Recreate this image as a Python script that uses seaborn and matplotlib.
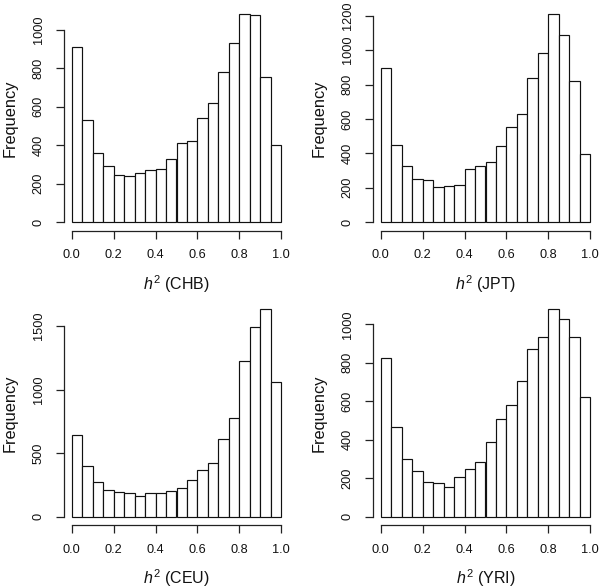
import numpy as np
import pandas as pd
import matplotlib
matplotlib.use("Agg")
import matplotlib.pyplot as plt
import seaborn as sns

sns.set_style("white")
plt.rcParams['font.family'] = ['Liberation Sans', 'DejaVu Sans']
plt.rcParams['mathtext.fontset'] = 'custom'
plt.rcParams['mathtext.it'] = 'Liberation Sans:italic'
plt.rcParams['mathtext.rm'] = 'Liberation Sans'

bin_edges = np.linspace(0, 1, 21)
x_ticks = [0.0, 0.2, 0.4, 0.6, 0.8, 1.0]
x_ticklabels = ["0.0", "0.2", "0.4", "0.6", "0.8", "1.0"]

pops = ["CHB", "JPT", "CEU", "YRI"]
chb = [910, 529, 359, 293, 244, 239, 256, 269, 279, 328, 414, 421, 541, 619, 782, 931, 1081, 1076, 757, 399]
jpt = [894, 447, 327, 250, 246, 205, 209, 217, 308, 327, 350, 445, 552, 627, 836, 983, 1208, 1090, 819, 399]
ceu = [640, 399, 270, 210, 194, 189, 165, 184, 189, 205, 228, 291, 367, 425, 611, 779, 1227, 1490, 1637, 1057]
yri = [823, 464, 298, 239, 182, 173, 153, 206, 250, 282, 388, 510, 582, 707, 873, 932, 1081, 1029, 932, 625]
counts = [chb, jpt, ceu, yri]
y_ticks = [
    [0, 200, 400, 600, 800, 1000],
    [0, 200, 400, 600, 800, 1000, 1200],
    [0, 500, 1000, 1500],
    [0, 200, 400, 600, 800, 1000],
]

W, H = 600, 588
fig = plt.figure(figsize=(W / 100, H / 100), dpi=100)
lefts = [63.5, 372.5]
tops = [6.0, 300.5]
aw, ah = 226.0, 224.5
positions = [(lefts[0], tops[0]), (lefts[1], tops[0]), (lefts[0], tops[1]), (lefts[1], tops[1])]

centers = (bin_edges[:-1] + bin_edges[1:]) / 2
for i, (pop, cnt, yt) in enumerate(zip(pops, counts, y_ticks)):
    l, t = positions[i]
    ax = fig.add_axes([l / W, 1 - (t + ah) / H, aw / W, ah / H])
    df = pd.DataFrame({"h2": centers, "n": cnt})
    sns.histplot(data=df, x="h2", weights="n", binwidth=0.05, binrange=(0, 1), ax=ax,
                 color="white", edgecolor="#111111", linewidth=0.85, alpha=1)
    ymax = max(cnt)
    ax.set_xlim(-0.04, 1.04)
    ax.set_ylim(-0.04 * ymax, 1.04 * ymax)
    for s in ["top", "right"]:
        ax.spines[s].set_visible(False)
    for s in ["left", "bottom"]:
        ax.spines[s].set_color("#222222")
        ax.spines[s].set_linewidth(0.9)
    ax.spines["bottom"].set_bounds(0, 1)
    ax.spines["left"].set_bounds(yt[0], yt[-1])
    ax.set_xticks(x_ticks)
    ax.set_xticklabels(x_ticklabels)
    ax.set_yticks(yt)
    ax.set_yticklabels([str(v) for v in yt], rotation=90, va="center")
    ax.tick_params(axis="both", which="both", direction="out", length=5.5,
                   width=0.9, color="#222222", labelsize=9.2, pad=8,
                   bottom=True, left=True, labelcolor="#111111")
    ax.set_xlabel(r"$h^2$ (" + pop + ")", fontsize=11.5, color="#111111")
    ax.set_ylabel("Frequency", fontsize=11.8, color="#111111")
    ax.yaxis.set_label_coords(-0.205, 0.5)
    ax.xaxis.set_label_coords(0.5, -0.19)
    ax.xaxis.label.set_va("top")
    ax.grid(False)

fig.savefig("out.png", dpi=100, facecolor="white")
